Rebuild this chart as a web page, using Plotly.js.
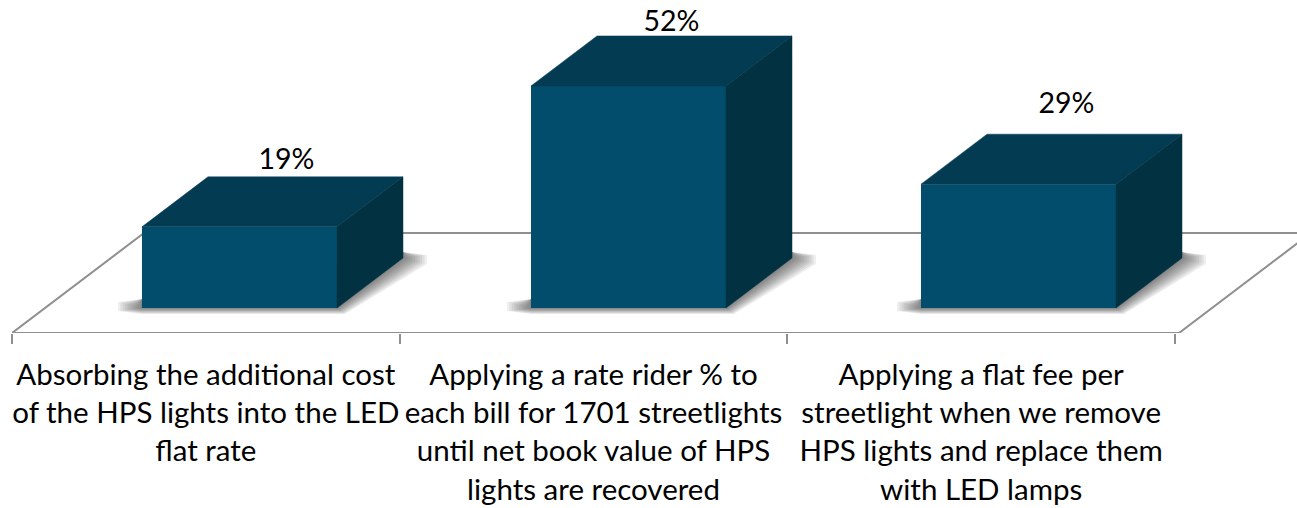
<!DOCTYPE html>
<html><head><meta charset="utf-8">
<script src="https://cdn.plot.ly/plotly-3.0.1.min.js"></script>
<style>html,body{margin:0;padding:0;background:#fff;overflow:hidden}#c{width:1297px;height:508px}</style>
</head><body><div id="c"></div>
<script>
const categories = [
  "Absorbing the additional cost<br>of the HPS lights into the LED<br>flat rate",
  "Applying a rate rider % to<br>each bill for 1701 streetlights<br>until net book value of HPS<br>lights are recovered",
  "Applying a flat fee per<br>streetlight when we remove<br>HPS lights and replace them<br>with LED lamps"
];
const values = [19, 52, 29];
const labels = ["19%", "52%", "29%"];
const tickPositions = [1, 2, 3];
const barCenters = [1.0868, 2.0903, 3.0963];

const W = 1297, H = 508, mL = 12, mR = 0, mT = 0, mB = 175;
const pxPerX = 1163 / 3, pxPerY = 4.27;
const dx = p => p / pxPerX, dy = p => p / pxPerY;
const xMax = 0.5 + dx(W - mL - mR);
const yMin = -dy(25), yMax = dy(308);
const barW = dx(195), depthX = dx(66), depthY = dy(50);
const FONT = 'Lato, "Open Sans", sans-serif';
const GRID = '#8f8f8f';
const FRONT = '#024D6C', TOP = '#033C52', SIDE = '#023242';

const poly = (xs, ys, color, ax, lw) => Object.assign({type:'scatter', mode:'lines', x:xs, y:ys, fill:'toself', fillcolor:color,
  line:{width:lw || 0, color:color}, hoverinfo:'skip', showlegend:false, cliponaxis:false}, ax || {});
const TOPAX = {xaxis:'x2', yaxis:'y2'};

const traces = [];
// Floor outline
const fx0 = 0.5, fx1 = 3.5 + dx(4), fDX = dx(132), fBack = yMin + dy(100);
traces.push({type:'scatter', mode:'lines', x:[fx0, fx0 + fDX, fx1 + fDX, fx1, fx0], y:[yMin, fBack, fBack, yMin, yMin],
  line:{color:GRID, width:2}, hoverinfo:'skip', showlegend:false, cliponaxis:false});

// Soft shadows under each bar
const LAYERS = 10;
barCenters.forEach(c => {
  const l = c - barW / 2, r = c + barW / 2;
  for (let k = LAYERS; k >= 1; k--) {
    const e = k / LAYERS;
    traces.push(poly(
      [l, l - dx(24 * e), l - dx(24 * e), l, r + dx(8 * e), r + depthX + dx(24 * e), r + depthX + dx(24 * e), r + depthX, l],
      [dy(9), dy(6 * e), -dy(3 * e), -dy(6 * e), -dy(6 * e), depthY - dy(6 * e), depthY + dy(3 * e), depthY + dy(6), dy(9)],
      'rgba(40,40,40,0.075)'));
  }
});

// Front faces
traces.push(Object.assign({type:'bar', x:barCenters, y:values, width:barW, marker:{color:FRONT, line:{width:0}},
  hoverinfo:'skip', showlegend:false, cliponaxis:false}, TOPAX));

// Top and side faces
values.forEach((v, i) => {
  const l = barCenters[i] - barW / 2, r = barCenters[i] + barW / 2;
  traces.push(poly([l, l + depthX, r + depthX, r, l], [v, v + depthY, v + depthY, v, v], TOP, TOPAX, 0.5));
  traces.push(poly([r, r + depthX, r + depthX, r, r], [0, depthY, v + depthY, v, 0], SIDE, TOPAX, 0.5));
});

// Value labels
const labelShiftX = [47, 43, 48], labelShiftY = [15, 12, 28];
traces.push(Object.assign({type:'scatter', mode:'text', x:barCenters.map((c, i) => c + dx(labelShiftX[i])),
  y:values.map((v, i) => v + depthY + dy(labelShiftY[i])), text:labels, textposition:'middle center',
  textfont:{family:FONT, size:28.5, color:'#000'}, hoverinfo:'skip', showlegend:false, cliponaxis:false}, TOPAX));

Plotly.newPlot('c', traces, {
  width:W, height:H, paper_bgcolor:'#fff', plot_bgcolor:'rgba(0,0,0,0)',
  margin:{l:mL, r:mR, t:mT, b:mB, pad:0}, showlegend:false, barmode:'overlay',
  xaxis:{type:'linear', range:[0.5, xMax], tickmode:'array', tickvals:tickPositions, ticktext:categories,
    ticks:'', showgrid:false, zeroline:false, showline:false, tickangle:0,
    tickfont:{family:FONT, size:29.5, color:'#000'}, ticklabelstandoff:21,
    minor:{tick0:0.5, dtick:1, ticks:'outside', ticklen:10, tickwidth:2, tickcolor:GRID, showgrid:false}},
  yaxis:{range:[yMin, yMax], visible:false, showgrid:false, zeroline:false},
  xaxis2:{overlaying:'x', range:[0.5, xMax], visible:false, showgrid:false, zeroline:false},
  yaxis2:{overlaying:'y', range:[yMin, yMax], visible:false, showgrid:false, zeroline:false}
}, {displayModeBar:false, staticPlot:true});
</script></body></html>
